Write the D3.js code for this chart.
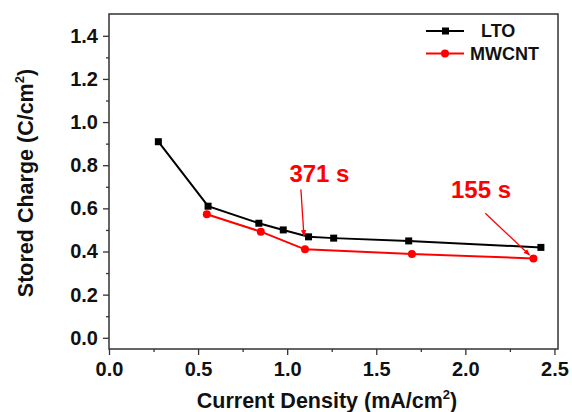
<!DOCTYPE html>
<html>
<head>
<meta charset="utf-8">
<script src="https://cdn.jsdelivr.net/npm/d3@7"></script>
<style>
  body { margin: 0; background: #fff; }
  text { font-family: "Liberation Sans", Arial, sans-serif; font-weight: bold; }
</style>
</head>
<body>
<div id="chart"></div>
<script>
// data
const ltoX = [0.277, 0.556, 0.841, 0.978, 1.12, 1.261, 1.682, 2.424];
const ltoY = [0.909, 0.61, 0.531, 0.5, 0.468, 0.462, 0.449, 0.419];
const cntX = [0.549, 0.852, 1.10, 1.70, 2.382];
const cntY = [0.573, 0.492, 0.41, 0.388, 0.368];
const xTicks = [0, 0.5, 1.0, 1.5, 2.0, 2.5];
const yTicks = [0, 0.2, 0.4, 0.6, 0.8, 1.0, 1.2, 1.4];
const seriesNames = ["LTO", "MWCNT"];
const colors = ["#000000", "#ff0000"];
// annotations: label, text anchor point (data), arrow start, arrow end
const notes = [
  { label: "371 s", tx: 1.181, ty: 0.724, x1: 1.077, y1: 0.688, x2: 1.094, y2: 0.472 },
  { label: "155 s", tx: 2.088, ty: 0.648, x1: 2.112, y1: 0.577, x2: 2.36, y2: 0.384 }
];

const width = 572, height = 412;
const margin = { top: 14, right: 14, bottom: 63, left: 109 };
const w = width - margin.left - margin.right,
  h = height - margin.top - margin.bottom;

const svg = d3.select("#chart").append("svg")
  .attr("width", width).attr("height", height);
const g = svg.append("g")
  .attr("transform", "translate(" + margin.left + "," + margin.top + ")");

const x = d3.scaleLinear().domain([0, 2.52]).range([0, w]);
const y = d3.scaleLinear().domain([-0.052, 1.501]).range([h, 0]);

// frame
g.append("rect").attr("width", w).attr("height", h)
  .attr("fill", "none").attr("stroke", "#333").attr("stroke-width", 1.5);

const styleLabels = a => a.selectAll("text").attr("font-size", 20).attr("fill", "#111")
  .attr("font-family", "Liberation Sans, Arial, sans-serif").attr("font-weight", "bold");

// bottom axis, major + minor
g.append("g").attr("transform", "translate(0," + h + ")")
  .call(d3.axisBottom(x).tickValues(d3.range(0.25, 2.5, 0.5)).tickSize(3).tickFormat(""))
  .call(a => a.select(".domain").remove());
g.append("g").attr("transform", "translate(0," + h + ")")
  .call(d3.axisBottom(x).tickValues(xTicks).tickSize(6).tickPadding(7).tickFormat(d3.format(".1f")))
  .call(a => a.select(".domain").remove())
  .call(styleLabels);

// left axis, major + minor
g.append("g")
  .call(d3.axisLeft(y).tickValues(d3.range(0.1, 1.5, 0.2)).tickSize(3).tickFormat(""))
  .call(a => a.select(".domain").remove());
g.append("g")
  .call(d3.axisLeft(y).tickValues(yTicks).tickSize(6).tickPadding(5).tickFormat(d3.format(".1f")))
  .call(a => a.select(".domain").remove())
  .call(styleLabels);
g.selectAll(".tick line").attr("stroke", "#333").attr("stroke-width", 1.3);

// axis titles
svg.append("text")
  .attr("x", 327).attr("y", 408)
  .attr("text-anchor", "middle").attr("font-size", 21.5).attr("fill", "#111")
  .html('Current Density (mA/cm<tspan dy="-9" font-size="13">2</tspan><tspan dy="9">)</tspan>');
svg.append("text")
  .attr("transform", "translate(33,183) rotate(-90)")
  .attr("text-anchor", "middle").attr("font-size", 21.5).attr("fill", "#111")
  .html('Stored Charge (C/cm<tspan dy="-9" font-size="13">2</tspan><tspan dy="9">)</tspan>');

const line = d3.line().x(d => x(d[0])).y(d => y(d[1]));
const lto = ltoX.map((v, i) => [v, ltoY[i]]);
const cnt = cntX.map((v, i) => [v, cntY[i]]);

g.append("path").datum(cnt).attr("fill", "none").attr("stroke", colors[1])
  .attr("stroke-width", 2).attr("d", line);
g.append("path").datum(lto).attr("fill", "none").attr("stroke", colors[0])
  .attr("stroke-width", 2).attr("d", line);

g.selectAll(".cnt").data(cnt).enter().append("circle")
  .attr("cx", d => x(d[0])).attr("cy", d => y(d[1])).attr("r", 4)
  .attr("fill", colors[1]);
g.selectAll(".lto").data(lto).enter().append("rect")
  .attr("x", d => x(d[0]) - 3.5).attr("y", d => y(d[1]) - 3.5)
  .attr("width", 7).attr("height", 7).attr("fill", colors[0]);

// annotations
svg.append("defs").append("marker").attr("id", "arr")
  .attr("viewBox", "0 0 10 10").attr("refX", 9).attr("refY", 5)
  .attr("markerWidth", 5).attr("markerHeight", 5).attr("orient", "auto")
  .append("path").attr("d", "M0,1 L10,5 L0,9 z").attr("fill", "#ff0000");
notes.forEach(n => {
  g.append("text").attr("x", x(n.tx)).attr("y", y(n.ty))
    .attr("text-anchor", "middle").attr("font-size", 24).attr("fill", "#ff0000")
    .text(n.label);
  g.append("line")
    .attr("x1", x(n.x1)).attr("y1", y(n.y1)).attr("x2", x(n.x2)).attr("y2", y(n.y2))
    .attr("stroke", "#ff0000").attr("stroke-width", 1.3).attr("marker-end", "url(#arr)");
});

// legend
const lg = svg.append("g").attr("transform", "translate(426,31)");
seriesNames.forEach((name, i) => {
  const yy = i * 22.5;
  lg.append("line").attr("x1", 0).attr("x2", 38).attr("y1", yy).attr("y2", yy)
    .attr("stroke", colors[i]).attr("stroke-width", 2);
  if (i === 0) {
    lg.append("rect").attr("x", 16).attr("y", yy - 3.5).attr("width", 7).attr("height", 7)
      .attr("fill", colors[i]);
  } else {
    lg.append("circle").attr("cx", 19).attr("cy", yy).attr("r", 4).attr("fill", colors[i]);
  }
  lg.append("text").attr("x", i === 0 ? 55 : 44).attr("y", yy + 6)
    .attr("font-size", 18).attr("fill", "#111").text(name);
});
</script>
</body>
</html>
